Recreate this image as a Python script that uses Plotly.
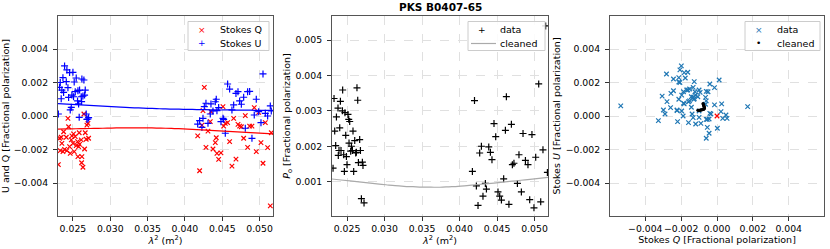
import numpy as np
import plotly.graph_objects as go

# ---------------- data ----------------
# channel lambda^2 (m^2) with Stokes Q, U (fractional)
lam2 = [0.02305, 0.02321, 0.02330, 0.02343, 0.02352, 0.02366, 0.02375, 0.02388, 0.02411, 0.02419,
        0.02433, 0.02442, 0.02455, 0.02464, 0.02478, 0.02486, 0.02500, 0.02508, 0.02517, 0.02531,
        0.02544, 0.02562, 0.02567, 0.02576, 0.02584, 0.02589, 0.02611, 0.02616, 0.02620, 0.02634,
        0.02647, 0.02656, 0.02665, 0.02678, 0.02687, 0.02701, 0.02710,
        0.04171, 0.04197, 0.04228, 0.04242, 0.04260, 0.04282, 0.04309, 0.04340, 0.04349, 0.04376,
        0.04407, 0.04420, 0.04429, 0.04452, 0.04483, 0.04510, 0.04519, 0.04541, 0.04572, 0.04599,
        0.04630, 0.04653, 0.04684, 0.04711, 0.04733, 0.04756, 0.04787, 0.04809, 0.04840, 0.04867,
        0.04898, 0.04929, 0.04956, 0.04988, 0.05019, 0.05046, 0.05077, 0.05108, 0.05144, 0.05157]
stokes_q = [-0.00290, -0.00133, -0.00207, -0.00127, -0.00163, -0.00213, -0.00094, -0.00199, -0.00127, -0.00207,
            -0.00014, -0.00064, -0.00183, -0.00223, -0.00143, -0.00119, -0.00163, -0.00107, -0.00213, -0.00123,
            -0.00177, -0.00153, -0.00243, -0.00183, -0.00100, -0.00169, -0.00143, -0.00279, -0.00243, -0.00306,
            0.00012, -0.00197, -0.00100, -0.00139, -0.00054, -0.00044, -0.00133,
            -0.00119, -0.00327, -0.00054, 0.00032, 0.00171, -0.00187, -0.00090, -0.00034, 0.00026, -0.00197,
            -0.00159, -0.00130, -0.00223, -0.00259, -0.00220, 0.00056, -0.00060, -0.00044, -0.00040, -0.00153,
            -0.00299, -0.00014, -0.00257, -0.00050, -0.00060, -0.00064, -0.00133, 0.00002, -0.00187, -0.00060,
            -0.00060, 0.00050, -0.00213, 0.00022, -0.00159, -0.00282, -0.00040, -0.00189, -0.00537, -0.00100]
stokes_u = [0.00012, 0.00171, 0.00200, 0.00103, 0.00155, 0.00229, 0.00141, 0.00299, 0.00205, 0.00275,
            0.00169, 0.00111, 0.00259, 0.00036, 0.00052, 0.00125, 0.00261, 0.00115, 0.00203, 0.00145,
            0.00227, 0.00090, 0.00151, 0.00072, -0.00008, 0.00155, 0.00115, 0.00086, 0.00221, 0.00119,
            0.00215, 0.00125, 0.00155, 0.00012, -0.00020, -0.00018, -0.00010,
            -0.00048, -0.00028, -0.00068, -0.00014, 0.00056, 0.00076, -0.00044, 0.00012, 0.00072, 0.00030,
            0.00085, 0.00100, 0.00032, 0.00050, -0.00034, -0.00014, -0.00020, -0.00103, 0.00191, 0.00161,
            0.00036, 0.00066, 0.00135, 0.00145, 0.00090, 0.00070, 0.00112, -0.00073, 0.00145, 0.00147,
            -0.00133, 0.00006, 0.00100, 0.00026, -0.00040, 0.00251, 0.00016, 0.00000, 0.00060, 0.00030]

# observed polarized fraction P_o
lam2_p = [0.02314, 0.02327, 0.02336, 0.02349, 0.02359, 0.02380, 0.02384, 0.02393, 0.02403, 0.02412,
          0.02420, 0.02439, 0.02442, 0.02456, 0.02465, 0.02473, 0.02483, 0.02492, 0.02500, 0.02513,
          0.02523, 0.02527, 0.02536, 0.02549, 0.02559, 0.02572, 0.02580, 0.02589, 0.02603, 0.02616,
          0.02625, 0.02633, 0.02643, 0.02652, 0.02669, 0.02679, 0.02692, 0.02705, 0.02713, 0.02727,
          0.04172, 0.04200, 0.04225, 0.04247, 0.04269, 0.04292, 0.04313, 0.04345, 0.04359, 0.04390,
          0.04412, 0.04433, 0.04460, 0.04483, 0.04513, 0.04536, 0.04559, 0.04589, 0.04612, 0.04625,
          0.04659, 0.04692, 0.04705, 0.04726, 0.04772, 0.04793, 0.04825, 0.04847, 0.04879, 0.04913,
          0.04936, 0.04966, 0.04993, 0.05016, 0.05056, 0.05083, 0.05113, 0.05149, 0.05172]
pol_frac = [0.00138, 0.00335, 0.00243, 0.00202, 0.00283, 0.00308, 0.00174, 0.00188, 0.00252, 0.00327,
            0.00188, 0.00300, 0.00359, 0.00176, 0.00129, 0.00295, 0.00231, 0.00171, 0.00148, 0.00290,
            0.00276, 0.00209, 0.00270, 0.00186, 0.00200, 0.00188, 0.00243, 0.00129, 0.00216, 0.00181,
            0.00183, 0.00365, 0.00330, 0.00154, 0.00219, 0.00188, 0.00052, 0.00155, 0.00146, 0.00040,
            0.00129, 0.00329, 0.00088, 0.00033, 0.00181, 0.00200, 0.00059, 0.00095, 0.00079, 0.00198,
            0.00183, 0.00162, 0.00264, 0.00227, 0.00071, 0.00059, 0.00048, 0.00108, 0.00245, 0.00340,
            0.00036, 0.00262, 0.00148, 0.00152, 0.00095, 0.00176, 0.00071, 0.00236, 0.00160, 0.00148,
            0.00049, 0.00233, 0.00026, 0.00169, 0.00376, 0.00043, 0.00190, 0.00540, 0.00126]

# cleaned model
lam2_model = [0.0230, 0.0242, 0.0254, 0.0266, 0.0278, 0.0290, 0.0302, 0.0314, 0.0326, 0.0338,
              0.0350, 0.0362, 0.0374, 0.0386, 0.0398, 0.0410, 0.0422, 0.0434, 0.0446, 0.0458,
              0.0470, 0.0482, 0.0494, 0.0506, 0.0518]
q_model = [-0.00078, -0.00077, -0.00076, -0.00075, -0.00074, -0.00073, -0.00072, -0.00071, -0.00071, -0.00071,
           -0.00071, -0.00072, -0.00073, -0.00075, -0.00077, -0.00080, -0.00083, -0.00086, -0.00089, -0.00092,
           -0.00095, -0.00098, -0.00101, -0.00104, -0.00107]
u_model = [0.00074, 0.00071, 0.00068, 0.00065, 0.00062, 0.00059, 0.00056, 0.00053, 0.00050, 0.00048,
           0.00046, 0.00044, 0.00042, 0.00041, 0.00040, 0.00039, 0.00038, 0.00037, 0.00036, 0.00036,
           0.00035, 0.00035, 0.00034, 0.00034, 0.00034]

origin_q = [0.0]
origin_u = [0.0]

title_text = "PKS B0407-65"
legend1_labels = ["Stokes Q", "Stokes U"]
legend2_labels = ["data", "cleaned"]
legend3_labels = ["data", "cleaned"]

# ---------------- figure ----------------
W, H = 830, 249
FONT = "DejaVu Sans"
TICK = 9.3
LAB = 9.5

def px_x(a, b):
    return [a / W, b / W]

def fx(px):
    return px / W

def fy(py):
    return (H - py) / H

y_dom = [(H - 216) / H, (H - 16) / H]

fig = go.Figure()
p_model = np.sqrt(np.array(q_model) ** 2 + np.array(u_model) ** 2)

RED, BLUE, TAB = "#ff0000", "#0000ff", "#1f77b4"

# panel 1
fig.add_trace(go.Scatter(x=lam2, y=stokes_q, mode="markers", name=legend1_labels[0],
                         marker=dict(symbol="x-thin", size=4.5, line=dict(color=RED, width=1.2)),
                         xaxis="x", yaxis="y"))
fig.add_trace(go.Scatter(x=lam2, y=stokes_u, mode="markers", name=legend1_labels[1],
                         marker=dict(symbol="cross-thin", size=5, line=dict(color=BLUE, width=1.2)),
                         xaxis="x", yaxis="y"))
fig.add_trace(go.Scatter(x=lam2_model, y=q_model, mode="lines",
                         line=dict(color=RED, width=1.2, shape="spline"), xaxis="x", yaxis="y"))
fig.add_trace(go.Scatter(x=lam2_model, y=u_model, mode="lines",
                         line=dict(color=BLUE, width=1.2, shape="spline"), xaxis="x", yaxis="y"))

# panel 2
fig.add_trace(go.Scatter(x=lam2_p, y=pol_frac, mode="markers", name=legend2_labels[0],
                         marker=dict(symbol="cross-thin", size=5, line=dict(color="black", width=1.2)),
                         xaxis="x2", yaxis="y2"))
fig.add_trace(go.Scatter(x=lam2_model, y=p_model, mode="lines", name=legend2_labels[1],
                         line=dict(color="#aaaaaa", width=1.2, shape="spline"),
                         xaxis="x2", yaxis="y2"))

# panel 3
fig.add_trace(go.Scatter(x=stokes_q, y=stokes_u, mode="markers", name=legend3_labels[0],
                         marker=dict(symbol="x-thin", size=4.5, line=dict(color=TAB, width=1.2)),
                         xaxis="x3", yaxis="y3"))
fig.add_trace(go.Scatter(x=q_model, y=u_model, mode="markers", name=legend3_labels[1],
                         marker=dict(symbol="circle", size=3, color="black"),
                         xaxis="x3", yaxis="y3"))
fig.add_trace(go.Scatter(x=origin_q, y=origin_u, mode="markers",
                         marker=dict(symbol="x-thin", size=4.5, line=dict(color=RED, width=1.2)),
                         xaxis="x3", yaxis="y3"))

axis_common = dict(showline=True, mirror=True, linecolor="#555555", linewidth=1,
                   ticks="outside", ticklen=4, tickwidth=0.8, tickcolor="#333",
                   showgrid=True, gridcolor="#e0e0e0", griddash="dash", gridwidth=0.8,
                   zeroline=False, tickfont=dict(family=FONT, size=TICK, color="black"),
                   title_font=dict(family=FONT, size=LAB, color="black"),
                   tickformat=".3f", exponentformat="none", tickangle=0)

lam_title = "<i>λ</i><sup>2</sup> (m<sup>2</sup>)"
yr = 0.00597

# ----- legends drawn as boxes + text glyphs -----
shapes = []
annotations = []

def g_size(g):
    return {"×": 9, "+": 9, "•": 9}.get(g, 9)

def add_legend(box_left, box_right, labels, glyphs, glyph_colors, line_glyph=None):
    top, bottom = 21.5, 50.5
    shapes.append(dict(type="rect", xref="paper", yref="paper",
                       x0=fx(box_left), x1=fx(box_right), y0=fy(bottom), y1=fy(top),
                       line=dict(color="#cccccc", width=1), fillcolor="rgba(255,255,255,0.85)",
                       layer="above"))
    rows = [29.5, 43.5]
    for i, (lab, g, c) in enumerate(zip(labels, glyphs, glyph_colors)):
        if line_glyph is not None and i == line_glyph:
            shapes.append(dict(type="line", xref="paper", yref="paper",
                               x0=fx(box_left + 3), x1=fx(box_left + 28), y0=fy(rows[i]), y1=fy(rows[i]),
                               line=dict(color=c, width=1.2), layer="above"))
        else:
            annotations.append(dict(text=g, x=fx(box_left + 13.5), y=fy(rows[i]), xref="paper", yref="paper",
                                    showarrow=False, xanchor="center", yanchor="middle",
                                    font=dict(family=FONT, size=g_size(g), color=c)))
        annotations.append(dict(text=lab, x=fx(box_left + 30), y=fy(rows[i]), xref="paper", yref="paper",
                                showarrow=False, xanchor="left", yanchor="middle",
                                font=dict(family=FONT, size=9.5, color="black")))

add_legend(188, 269, legend1_labels, ["×", "+"], [RED, BLUE])
add_legend(468, 545, legend2_labels, ["+", ""], ["black", "#aaaaaa"], line_glyph=1)
add_legend(745, 820, legend3_labels, ["×", "•"], [TAB, "black"])

annotations.append(dict(text="<b>" + title_text + "</b>", x=fx(440), y=fy(7),
                        xref="paper", yref="paper", showarrow=False, xanchor="center", yanchor="middle",
                        font=dict(family=FONT, size=10.5, color="black")))

fig.update_layout(
    width=W, height=H, margin=dict(l=0, r=0, t=0, b=0),
    paper_bgcolor="white", plot_bgcolor="white", showlegend=False,
    font=dict(family=FONT, size=LAB, color="black"),
    xaxis=dict(domain=px_x(58, 273), range=[0.0230, 0.0518], dtick=0.005, tick0=0.025,
               title=dict(text=lam_title, standoff=2), anchor="y", **axis_common),
    yaxis=dict(domain=y_dom, range=[-yr, yr], dtick=0.002, tick0=0, ticklabelstandoff=3,
               title=dict(text="U and Q [Fractional polarization]", standoff=3), anchor="x", **axis_common),
    xaxis2=dict(domain=px_x(332, 548), range=[0.0230, 0.0518], dtick=0.005, tick0=0.025,
                title=dict(text=lam_title, standoff=2), anchor="y2", **axis_common),
    yaxis2=dict(domain=y_dom, range=[0.00003, 0.00568], dtick=0.001, tick0=0.001, ticklabelstandoff=3,
                title=dict(text="<i>P</i><sub>o</sub> [Fractional polarization]", standoff=3), anchor="x2", **axis_common),
    xaxis3=dict(domain=px_x(610, 824), range=[-yr, yr], dtick=0.002, tick0=0,
                title=dict(text="Stokes <i>Q</i> [Fractional polarization]", standoff=2), anchor="y3", **axis_common),
    yaxis3=dict(domain=y_dom, range=[-yr, yr], dtick=0.002, tick0=0, ticklabelstandoff=3,
                title=dict(text="Stokes <i>U</i> [Fractional polarization]", standoff=3), anchor="x3", **axis_common),
    shapes=shapes,
    annotations=annotations,
)

fig.write_html("out.html",
               config={"displayModeBar": False},
               post_script="document.body.style.margin='0';document.body.style.padding='0';"
                           "document.body.style.overflow='hidden';")
